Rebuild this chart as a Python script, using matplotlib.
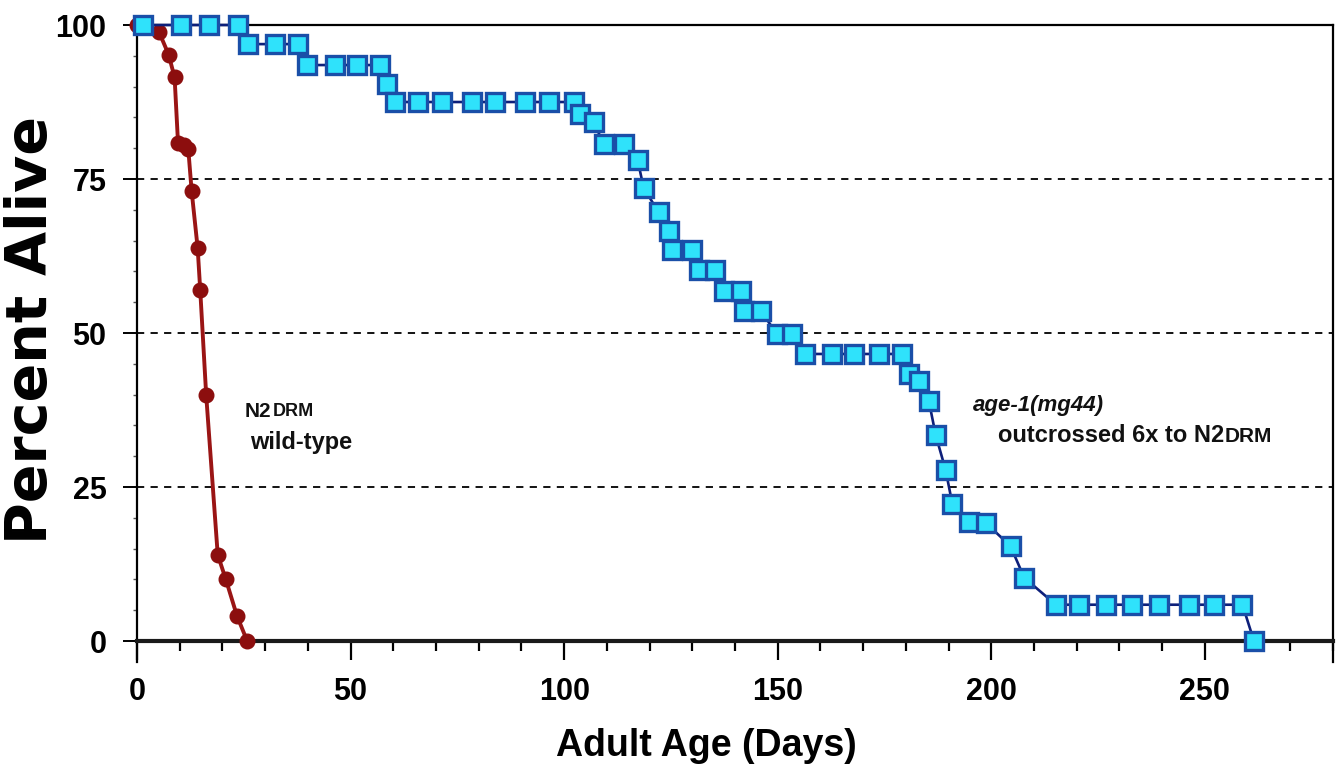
import matplotlib
matplotlib.use("Agg")
import matplotlib.pyplot as plt
from matplotlib.ticker import MultipleLocator, FixedLocator

# ---- data ----
red_days = [0, 5.2, 7.4, 8.8, 9.6, 10.9, 12.0, 12.8, 14.2, 14.8, 16.2, 18.9, 20.8, 23.4, 25.8]
red_alive = [100, 98.8, 95.2, 91.5, 80.9, 80.5, 79.9, 73.0, 63.8, 57.0, 39.9, 14.0, 10.0, 4.1, 0]

blue_days = [1.5, 10.3, 16.9, 23.7,
             26.1, 32.3, 37.8,
             39.8, 46.4, 51.5, 56.9,
             58.5,
             60.4, 65.9, 71.4, 78.4, 83.9, 90.9, 96.4, 102.2,
             103.8, 106.9,
             109.3, 113.9,
             117.2, 118.6, 122.1, 124.5,
             125.3, 130.0,
             131.5, 135.4,
             137.4, 141.3,
             142.1, 146.0,
             149.9, 153.4,
             156.5, 162.8, 167.9, 173.7, 179.2,
             180.7, 183.1, 185.4, 187.0, 189.3, 190.9,
             194.8, 198.7,
             204.5, 207.7,
             215.1, 220.6, 226.8, 233.0, 239.3, 246.3, 252.2, 258.8,
             261.5]
blue_alive = [100, 100, 100, 100,
              96.9, 96.9, 96.9,
              93.5, 93.5, 93.5, 93.5,
              90.5,
              87.5, 87.5, 87.5, 87.5, 87.5, 87.5, 87.5, 87.5,
              85.5, 84.2,
              80.7, 80.7,
              78.1, 73.6, 69.6, 66.5,
              63.5, 63.5,
              60.3, 60.3,
              56.8, 56.8,
              53.6, 53.6,
              49.8, 49.8,
              46.6, 46.6, 46.6, 46.6, 46.6,
              43.3, 42.2, 38.9, 33.4, 27.8, 22.2,
              19.4, 19.2,
              15.4, 10.3,
              5.9, 5.9, 5.9, 5.9, 5.9, 5.9, 5.9, 5.9,
              0]

x_ticks = [0, 50, 100, 150, 200, 250]
y_ticks = [0, 25, 50, 75, 100]
grid_levels = [25, 50, 75]

xlabel = "Adult Age (Days)"
ylabel = "Percent Alive"

BOLD = ['Liberation Sans', 'DejaVu Sans']

fig = plt.figure(figsize=(13.44, 7.75), dpi=100)
ax = fig.add_axes([137/1344, 1-662/775, 1196/1344, 637/775])
ax.set_xlim(0, 280)
ax.set_ylim(-3.4, 100)

for g in grid_levels:
    ax.axhline(g, color='black', lw=1.3, ls=(0, (4, 3.5)), zorder=1)

ax.plot(red_days, red_alive, '-o', color='#9A1515', lw=2.8, ms=10.5,
        mfc='#8C0E0E', mec='#8C0E0E', zorder=3, clip_on=False)
ax.plot(blue_days, blue_alive, '-s', color='#0D1F7A', lw=1.9, ms=13,
        mfc='#2FE2FB', mec='#1A4FA8', mew=2.4, zorder=4, clip_on=False)

# spines
ax.spines['bottom'].set_position(('data', 0))
ax.spines['bottom'].set_linewidth(3.0)
ax.spines['bottom'].set_color('#1a1a1a')
for s in ['left', 'top', 'right']:
    ax.spines[s].set_linewidth(1.6)
    ax.spines[s].set_color('black')

ax.xaxis.set_major_locator(FixedLocator(x_ticks))
ax.xaxis.set_minor_locator(MultipleLocator(10))
ax.yaxis.set_major_locator(FixedLocator(y_ticks))
ax.yaxis.set_minor_locator(MultipleLocator(5))

ax.tick_params(axis='x', which='major', direction='out', length=14, width=1.6, pad=12)
ax.tick_params(axis='x', which='minor', direction='out', length=7, width=1.6)
ax.tick_params(axis='y', which='major', direction='out', length=10, width=1.4, pad=12)
ax.tick_params(axis='y', which='minor', direction='out', length=3, width=1.0, color='#555555')

for lab in ax.get_xticklabels() + ax.get_yticklabels():
    lab.set_fontfamily(BOLD)
    lab.set_fontweight('bold')
    lab.set_fontsize(22)

fig.text(706/1344, 1-746/775, xlabel, ha='center', va='center',
         fontsize=27, fontweight='bold', family=BOLD)
fig.text(32/1344, 1-330/775, ylabel, ha='center', va='center', rotation=90,
         fontsize=41, fontweight='bold', family=['DejaVu Sans'])

# annotations
t1 = ax.text(25.3, 37.3, "N2", fontsize=15, fontweight='bold', family=BOLD,
             ha='left', va='center', color='#111111')
ax.annotate("DRM", xy=(1, 0), xycoords=t1, xytext=(0.5, 0.8), textcoords='offset points',
            fontsize=13, fontweight='bold', family=BOLD, va='bottom', ha='left',
            color='#111111')
ax.text(26.5, 32.3, "wild-type", fontsize=17, fontweight='bold', family=BOLD,
        ha='left', va='center', color='#111111')

ax.text(195.6, 38.3, "age-1(mg44)", fontsize=16, fontweight='bold', style='italic',
        family=BOLD, ha='left', va='center', color='#111111')
t2 = ax.text(201.5, 33.3, "outcrossed 6x to N2", fontsize=17, fontweight='bold',
             family=BOLD, ha='left', va='center', color='#111111')
ax.annotate("DRM", xy=(1, 0), xycoords=t2, xytext=(0.5, 0.8), textcoords='offset points',
            fontsize=15, fontweight='bold', family=BOLD, va='bottom', ha='left',
            color='#111111')

fig.savefig("out.png", dpi=100, facecolor='white')
